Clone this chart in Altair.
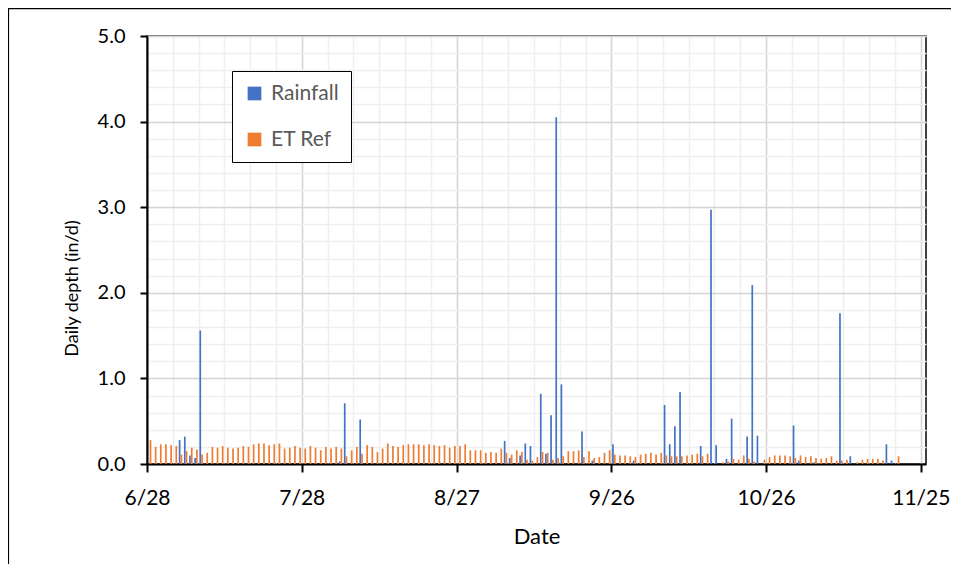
import altair as alt
import pandas as pd

start_date = "2021-06-28"

et_ref = [
    0.28, 0.20, 0.23, 0.23, 0.22, 0.21, 0.11, 0.15, 0.19, 0.17,
    0.11, 0.13, 0.20, 0.19, 0.21, 0.19, 0.18, 0.19, 0.21, 0.20,
    0.23, 0.24, 0.24, 0.22, 0.23, 0.24, 0.18, 0.19, 0.21, 0.19,
    0.18, 0.21, 0.19, 0.16, 0.20, 0.18, 0.20, 0.18, 0.09, 0.16,
    0.20, 0.12, 0.22, 0.20, 0.14, 0.18, 0.24, 0.21, 0.20, 0.22,
    0.23, 0.23, 0.23, 0.22, 0.23, 0.22, 0.21, 0.22, 0.19, 0.21,
    0.21, 0.23, 0.16, 0.16, 0.16, 0.13, 0.14, 0.13, 0.18, 0.13,
    0.11, 0.16, 0.14, 0.05, 0.04, 0.08, 0.14, 0.13, 0.05, 0.07,
    0.09, 0.15, 0.15, 0.16, 0.08, 0.15, 0.07, 0.08, 0.13, 0.16,
    0.11, 0.10, 0.10, 0.09, 0.08, 0.11, 0.12, 0.13, 0.11, 0.13,
    0.10, 0.09, 0.09, 0.09, 0.10, 0.11, 0.12, 0.09, 0.12, 0.00,
    0.00, 0.02, 0.03, 0.06, 0.05, 0.10, 0.06, 0.03, 0.00, 0.05,
    0.08, 0.10, 0.10, 0.10, 0.09, 0.07, 0.10, 0.08, 0.09, 0.07,
    0.06, 0.07, 0.09, 0.04, 0.04, 0.05, 0.00, 0.02, 0.05, 0.06,
    0.06, 0.06, 0.04, 0.00, 0.00, 0.09,
]

rainfall = [
    0, 0, 0, 0, 0, 0, 0.28, 0.32, 0.10, 0.07,
    1.56, 0, 0, 0, 0, 0, 0, 0, 0, 0,
    0, 0, 0, 0, 0, 0, 0, 0, 0, 0,
    0, 0, 0, 0, 0, 0, 0, 0.03, 0.71, 0,
    0, 0.52, 0, 0, 0, 0, 0, 0, 0, 0,
    0, 0, 0, 0, 0, 0, 0, 0, 0, 0,
    0, 0, 0, 0, 0, 0, 0, 0, 0, 0.27,
    0.07, 0, 0.10, 0.24, 0.21, 0, 0.82, 0.12, 0.57, 4.05,
    0.93, 0, 0, 0, 0.38, 0, 0.04, 0, 0, 0,
    0.23, 0, 0, 0, 0.04, 0, 0, 0, 0, 0,
    0.69, 0.23, 0.44, 0.84, 0, 0, 0, 0.21, 0, 2.97,
    0.22, 0, 0.06, 0.53, 0, 0, 0.32, 2.09, 0.33, 0,
    0, 0, 0, 0, 0, 0.45, 0.04, 0, 0, 0.02,
    0, 0, 0, 0, 1.76, 0, 0.09, 0, 0, 0,
    0, 0, 0, 0.23, 0.04, 0,
]

tick_dates = ["2021-06-28", "2021-07-28", "2021-08-27", "2021-09-26", "2021-10-26", "2021-11-25"]
domain_end = "2021-11-26"
y_major = [0, 1, 2, 3, 4, 5]
y_minor = [0.2, 0.4, 0.6, 0.8, 1.0, 1.2, 1.4, 1.6, 1.8, 2.0, 2.2, 2.4, 2.6, 2.8, 3.0,
           3.2, 3.4, 3.6, 3.8, 4.0, 4.2, 4.4, 4.6, 4.8, 5.0]

series_names = ["Rainfall", "ET Ref"]
series_colors = ["#4472C4", "#ED7D31"]

dates = pd.date_range(start_date, periods=len(et_ref), freq="D").strftime("%Y-%m-%d").tolist()
df = pd.DataFrame({"date": dates, "rain": rainfall, "et": et_ref})


def dt(s):
    ts = pd.Timestamp(s)
    return alt.DateTime(year=ts.year, month=ts.month, date=ts.day, utc=True)


minor_dates = pd.date_range(tick_dates[0], tick_dates[-1], freq="5D")
x_minor_vals = [dt(d) for d in minor_dates]
x_major_vals = [dt(d) for d in tick_dates]

FONT = "Lato"

xscale = alt.Scale(type="utc", domain=[dt(tick_dates[0]), dt(domain_end)], padding=0)
yscale = alt.Scale(domain=[0, 5], nice=False, zero=True, padding=0)
cscale = alt.Scale(domain=series_names, range=series_colors)

legend = alt.Legend(
    title=None, orient="none", legendX=85, legendY=35, padding=12,
    fillColor="white", strokeColor="black", symbolType="square",
    symbolSize=188, symbolStrokeWidth=0, symbolOpacity=1,
    labelFont=FONT, labelFontSize=21, labelColor="#595959",
    labelOffset=6, rowPadding=24,
)

minor_x = alt.Axis(values=x_minor_vals, orient="top", labels=False, ticks=False,
                   domain=False, grid=True, gridColor="#efefef", gridWidth=1.5, title=None)
minor_y = alt.Axis(values=y_minor, orient="right", labels=False, ticks=False,
                   domain=False, grid=True, gridColor="#efefef", gridWidth=1.5, title=None)

major_x = alt.Axis(
    values=x_major_vals, orient="bottom", format="%-m/%-d",
    labelFont=FONT, labelFontSize=21, labelColor="black", labelPadding=32,
    labelBaseline="alphabetic", labelFlush=False, labelOverlap=False,
    tickColor="black", tickWidth=2, tickSize=8,
    domainColor="black", domainWidth=2,
    grid=True, gridColor="#d6d6d6", gridWidth=1.5,
    title="Date", titleFont=FONT, titleFontSize=22, titleFontWeight="normal",
    titleColor="black", titleX=389.5, titleY=79, titleBaseline="alphabetic",
    titleAlign="center",
)
major_y = alt.Axis(
    values=y_major, orient="left", format=".1f",
    labelFont=FONT, labelFontSize=20, labelColor="black", labelPadding=15,
    labelFlush=False, labelOverlap=False,
    tickColor="black", tickWidth=2, tickSize=7,
    domainColor="black", domainWidth=2,
    grid=True, gridColor="#d6d6d6", gridWidth=1.5,
    title="Daily depth (in/d)", titleFont=FONT, titleFontSize=18,
    titleFontWeight="normal", titleColor="black",
    titleX=-75, titleY=252, titleAngle=270, titleAlign="center",
    titleBaseline="middle",
)

base = alt.Chart(df).transform_calculate(t="toDate(datum.date) + 43200000")

rain_layer = base.transform_calculate(series="'Rainfall'").mark_bar(
    width=1.7, xOffset=-0.9
).encode(
    x=alt.X("t:T", scale=xscale, axis=minor_x),
    y=alt.Y("rain:Q", scale=yscale, axis=minor_y),
    color=alt.Color("series:N", scale=cscale, legend=legend),
)

et_layer = base.transform_calculate(series="'ET Ref'").mark_bar(
    width=1.7, xOffset=0.9
).encode(
    x=alt.X("t:T", scale=xscale, axis=major_x),
    y=alt.Y("et:Q", scale=yscale, axis=major_y),
    color=alt.Color("series:N", scale=cscale, legend=legend),
)

frame_df = pd.DataFrame({"k": [0]})
left_line = alt.Chart(frame_df).mark_rule(color="black", strokeWidth=1.2).encode(
    x=alt.value(-138.5), y=alt.value(-28), y2=alt.value(530)
)
top_line = alt.Chart(frame_df).mark_rule(color="black", strokeWidth=1.2).encode(
    y=alt.value(-27.4), x=alt.value(-139), x2=alt.value(810)
)

chart = alt.layer(rain_layer, et_layer, left_line, top_line).resolve_axis(
    x="independent", y="independent"
).properties(
    width=779, height=428,
    autosize=alt.AutoSizeParams(type="none"),
    padding={"left": 139, "top": 28, "right": 25, "bottom": 100},
).configure(font=FONT).configure_view(stroke="black", strokeWidth=1.5)

chart.save("out.html", embed_options={"renderer": "svg", "actions": False})
